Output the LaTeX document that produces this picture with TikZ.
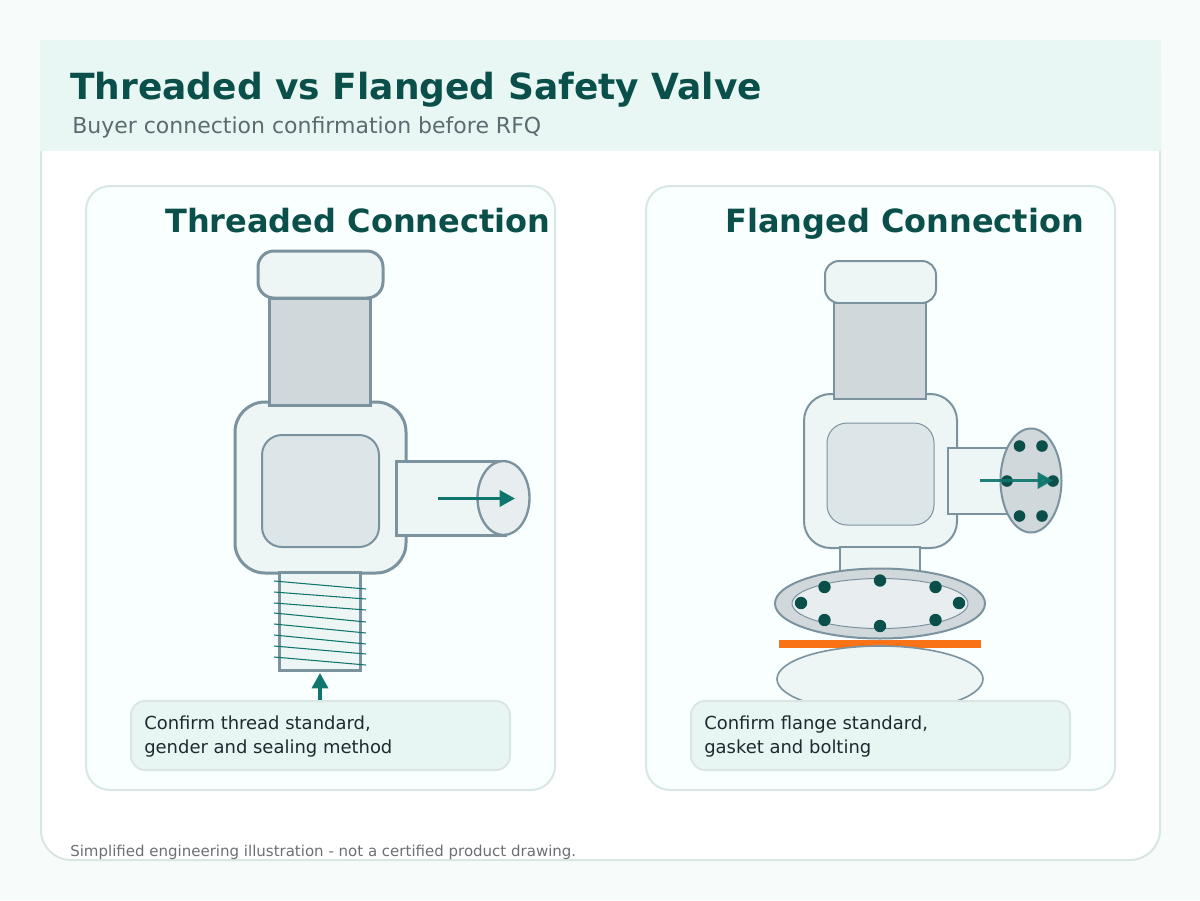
\documentclass[tikz,border=0pt]{standalone}
\usepackage{fontspec}
\setmainfont{DejaVu Sans}
\usetikzlibrary{arrows.meta}
\definecolor{pagebg}{HTML}{F7FBFA}
\definecolor{cardline}{HTML}{D9E6E4}
\definecolor{bandbg}{HTML}{E9F7F4}
\definecolor{panelbg}{HTML}{F8FFFE}
\definecolor{notebg}{HTML}{E8F6F3}
\definecolor{titlec}{HTML}{0B4F4A}
\definecolor{subc}{HTML}{5C6B70}
\definecolor{inkc}{HTML}{1F2A30}
\definecolor{footc}{HTML}{6B7075}
\definecolor{steel}{HTML}{7B929F}
\definecolor{lightm}{HTML}{EEF5F5}
\definecolor{midm}{HTML}{D0D8DC}
\definecolor{innerm}{HTML}{DCE6E8}
\definecolor{facem}{HTML}{E8EDF0}
\definecolor{flow}{HTML}{0F766E}
\definecolor{boltc}{HTML}{0B4F4A}
\definecolor{gasket}{HTML}{F97316}
\tikzset{
  metal/.style={draw=steel,line width=2.25pt,fill=lightm,line join=miter},
  metalthin/.style={draw=steel,line width=1.5pt,fill=lightm},
  panelbox/.style={draw=cardline,line width=1.5pt,fill=panelbg,rounded corners=18pt},
  notebox/.style={draw=cardline,line width=1.5pt,fill=notebg,rounded corners=10.5pt},
  flowarrow/.style={draw=flow,line width=2.6pt,-{Triangle[length=11.5pt,width=12pt]}},
  threadline/.style={draw=flow,line width=0.8pt},
  bolt/.style={fill=boltc},
  heading/.style={anchor=base west,font=\fontsize{24pt}{28pt}\selectfont\bfseries,text=titlec,inner sep=0pt},
  notetext/.style={anchor=base west,font=\fontsize{13.47pt}{18pt}\selectfont,text=inkc,inner sep=0pt},
}
\begin{document}
\begin{tikzpicture}[x=0.75pt,y=-0.75pt]
\useasboundingbox (0,0) rectangle (1200,900);
\fill[pagebg] (0,0) rectangle (1200,900);
% card
\draw[draw=cardline,line width=1.5pt,fill=white,rounded corners=22.5pt] (41,41) rectangle (1160,860);
\fill[bandbg] (40,40) rectangle (1161,151);
\node[anchor=base west,inner sep=0pt,font=\fontsize{27pt}{32pt}\selectfont\bfseries,text=titlec] (title) at (70,99) {Threaded vs Flanged Safety Valve};
\node[anchor=base west,inner sep=0pt,font=\fontsize{16.5pt}{20pt}\selectfont,text=subc] (subtitle) at (72,133) {Buyer connection confirmation before RFQ};
% panels
\path[panelbox] (86,186) rectangle (555,790);
\path[panelbox] (646,186) rectangle (1115,790);
\node[heading] (headA) at (165,232) {Threaded Connection};
\node[heading] (headB) at (725,232) {Flanged Connection};
% threaded valve
\path[metal,rounded corners=12pt] (258,251) rectangle (383,298);
\path[metal,fill=midm] (269,298) rectangle (370.5,405);
\path[metal,rounded corners=22.5pt] (235,402) rectangle (406,573);
\path[metal,fill=midm] (269,298) rectangle (370.5,405);
\path[metalthin,fill=innerm,rounded corners=15pt] (262,435) rectangle (379,547);
\path[metal] (396.5,461) rectangle (505,535);
\path[metal,fill=facem,line width=1.75pt] (503.5,498) ellipse [x radius=26,y radius=37];
\coordinate (flowAa) at (438,498.5);
\coordinate (flowAb) at (515,498.5);
\draw[flowarrow] (flowAa) -- (flowAb);
\path[metal] (279,572) rectangle (360.5,670);
\foreach \ya/\yb in {581/589,592/599,603/610,613/622,624/633,635/644,646/654,657/665}{
  \draw[threadline] (274,\ya) -- (366,\yb);
}
\coordinate (inA) at (320,700);
\coordinate (inB) at (320,673);
\draw[flowarrow] (inA) -- (inB);
% flanged valve
\path[metal,line width=1.5pt,rounded corners=10.5pt] (825,261) rectangle (936,303);
\path[metal,line width=1.5pt,fill=midm] (834,303) rectangle (926,398.5);
\path[metal,line width=1.5pt,rounded corners=20pt] (804,394) rectangle (957,548);
\path[metal,line width=1.5pt,fill=midm] (834,303) rectangle (926,398.5);
\path[metalthin,line width=0.75pt,fill=innerm,rounded corners=15pt] (827,423) rectangle (934,525);
\path[metal,line width=1.5pt] (948,448) rectangle (1030,514);
\path[metal,line width=1.5pt,fill=midm] (1031,480.5) ellipse [x radius=30.5,y radius=52];
\foreach \x/\y in {1019.5/446,1042/446,1007/481,1053/481,1019.5/516,1042/516}{
  \fill[bolt] (\x,\y) circle [radius=5.8];
}
\coordinate (flowBa) at (980,480.5);
\coordinate (flowBb) at (1053,480.5);
\draw[flowarrow,opacity=0.92] (flowBa) -- (flowBb);
\path[metal,line width=1.5pt] (840,547) rectangle (920,600);
\fill[gasket] (779,640) rectangle (981,648);
\path[metal,line width=1.5pt,fill=midm] (880,603.5) ellipse [x radius=105,y radius=35];
\path[metalthin,line width=0.75pt,fill=facem] (880,603.5) ellipse [x radius=88,y radius=25];
\foreach \x/\y in {880/580.5,824.5/587,935.5/587,801/603,959/603,824.5/620,935.5/620,880/626}{
  \fill[bolt] (\x,\y) circle [radius=6.2];
}
\path[metal,line width=1.2pt] (880,679) ellipse [x radius=103,y radius=33];
% notes
\path[notebox] (131,701) rectangle (510,770);
\path[notebox] (691,701) rectangle (1070,770);
\node[notetext] (noteA1) at (144,729) {Confirm thread standard,};
\node[notetext] (noteA2) at (144,753) {gender and sealing method};
\node[notetext] (noteB1) at (704,729) {Confirm flange standard,};
\node[notetext] (noteB2) at (704,753) {gasket and bolting};
\node[anchor=base west,inner sep=0pt,font=\fontsize{11.25pt}{14pt}\selectfont,text=footc] (foot) at (70,856) {Simplified engineering illustration - not a certified product drawing.};
\end{tikzpicture}
\end{document}
